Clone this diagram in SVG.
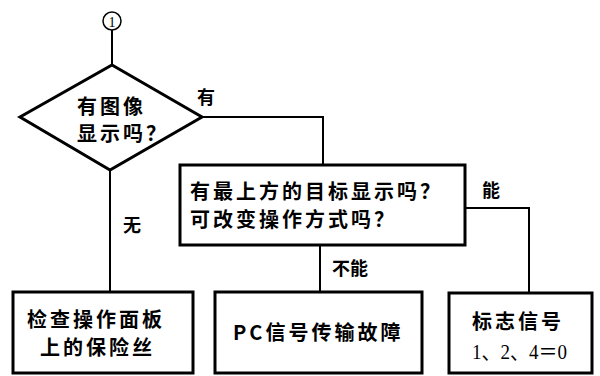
<svg xmlns="http://www.w3.org/2000/svg" width="600" height="376" viewBox="0 0 600 376">
<style>
.line{fill:none;stroke:#000;stroke-width:2}
.box{fill:#fff;stroke:#000;stroke-width:3}
.t{font-family:"Noto Sans CJK SC","Liberation Sans",sans-serif;font-weight:bold;font-size:20px;fill:#000;letter-spacing:3px}
.lab{font-family:"Noto Sans CJK SC","Liberation Sans",sans-serif;font-weight:bold;font-size:18px;fill:#000}
.num{font-family:"Liberation Serif","Noto Sans CJK SC",serif;font-size:21px;fill:#000}
</style>
<rect width="600" height="376" fill="#fff"/>
<g id="connectors">
<line class="line" x1="112" y1="30" x2="112" y2="65"/>
<polyline class="line" points="202,117 323,117 323,165"/>
<line class="line" x1="110" y1="170" x2="110" y2="292"/>
<line class="line" x1="320" y1="245" x2="320" y2="292"/>
<polyline class="line" points="465,208 529,208 529,293"/>
<text class="lab" x="197" y="104">有</text>
<text class="lab" x="123" y="232">无</text>
<text class="lab" x="482" y="197">能</text>
<text class="lab" x="332" y="275">不能</text>
</g>
<g id="start">
<circle cx="112" cy="21" r="9" fill="#fff" stroke="#000" stroke-width="1.5"/>
<text x="112" y="26.5" text-anchor="middle" font-family="Liberation Serif,serif" font-size="14">1</text>
</g>
<g id="decision1">
<polygon points="112,65 202,117 110,170 20,117" fill="#fff" stroke="#000" stroke-width="3" stroke-linejoin="miter"/>
<text class="t" x="77" y="114">有图像</text>
<text class="t" x="77" y="141">显示吗？</text>
</g>
<g id="decision2">
<rect class="box" x="180" y="165" width="285" height="80"/>
<text class="t" x="190" y="199">有最上方的目标显示吗？</text>
<text class="t" x="190" y="227">可改变操作方式吗？</text>
</g>
<g id="fuse">
<rect class="box" x="13" y="292" width="180" height="81"/>
<text class="t" x="27" y="327">检查操作面板</text>
<text class="t" x="40" y="355">上的保险丝</text>
</g>
<g id="pc">
<rect class="box" x="215" y="292" width="207" height="81"/>
<text class="t" x="233" y="340" letter-spacing="1">PC信号传输故障</text>
</g>
<g id="flag">
<rect class="box" x="449" y="293" width="143" height="80"/>
<text class="t" x="472" y="329" letter-spacing="4">标志信号</text>
<text class="num" x="472" y="359" textLength="95" lengthAdjust="spacingAndGlyphs">1、2、4＝0</text>
</g>
</svg>
